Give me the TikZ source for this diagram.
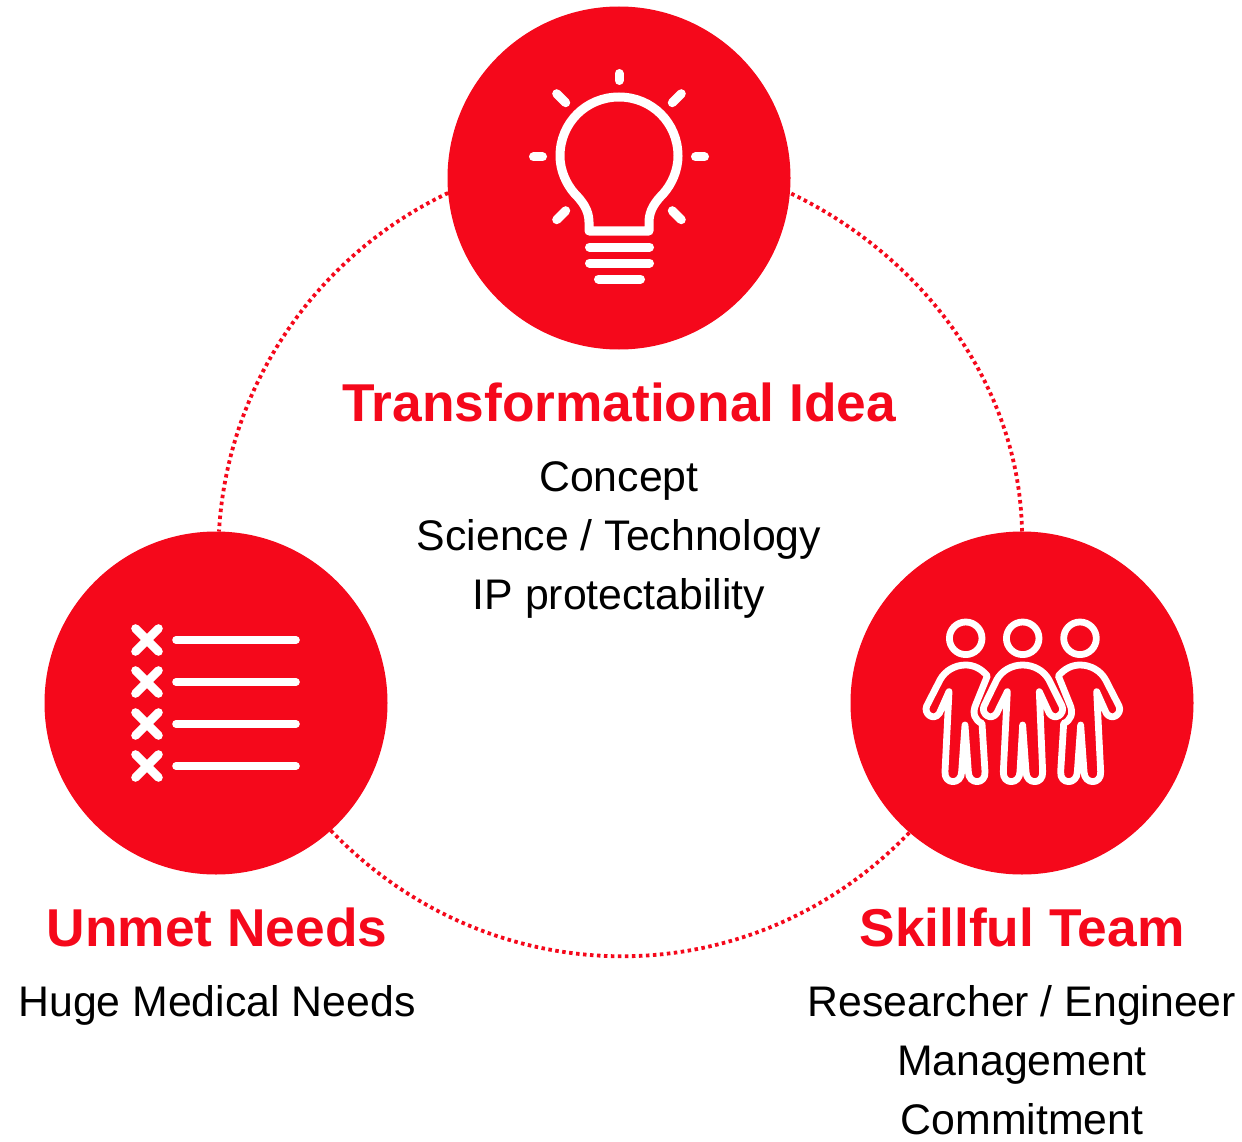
\documentclass[tikz,border=0pt]{standalone}
\usepackage{fontspec}
\setmainfont{Liberation Sans}
\definecolor{brandred}{HTML}{F5081B}
\tikzset{
  disc/.style={circle,fill=brandred,minimum size=343pt,inner sep=0pt,outer sep=0pt},
  linkarc/.style={draw=brandred,line width=3.8pt,dash pattern=on 3.5pt off 3.5pt},
  heading/.style={text=brandred,font=\fontsize{53.3}{60}\selectfont\bfseries,inner sep=0pt,anchor=center},
  bodytext/.style={text=black,font=\fontsize{42.8}{59}\selectfont,align=center,inner sep=0pt},
  bulbline/.style={draw=white,line width=9pt,line cap=round,line join=round},
  listline/.style={draw=white,line width=7.6pt,line cap=round},
  crossline/.style={draw=white,line width=8.6pt,line cap=round},
  personline/.style={draw=white,line width=6.8pt,line cap=round,line join=round}
}
\newcommand{\sidebody}{(197,195) .. controls (165,195) and (135,212) .. (120,240)
  -- (80,318) .. controls (70,340) and (100,365) .. (118,340) -- (147,275)
  -- (135,515) .. controls (132,555) and (185,555) .. (185,515) -- (195,375)
  -- (205,515) .. controls (205,555) and (258,555) .. (255,515) -- (246,370)
  .. controls (225,362) and (215,340) .. (228,312) -- (262,228)
  .. controls (245,207) and (222,195) .. (197,195) -- cycle}
\begin{document}
\begin{tikzpicture}[x=1pt,y=-1pt]
\useasboundingbox (0,0) rectangle (1242,1142);
\fill[white] (0,0) rectangle (1242,1142);
\node[disc] (idea) at (619,178) {};
\node[disc] (needs) at (216,703) {};
\node[disc] (team) at (1022,703) {};
\draw[linkarc] (idea.185) .. controls +(205.4:146.5pt) and +(86.7:146.5pt) .. (needs.89.2);
\draw[linkarc] (needs.-48.8) .. controls +(313.9:231pt) and +(226.1:231pt) .. (team.229);
\draw[linkarc] (team.90.8) .. controls +(91:146.5pt) and +(-25.4:146.5pt) .. (idea.-5);
% bulb
\draw[bulbline] (589,231) -- (589,222) .. controls (589,210) and (582,201) .. (575,194)
  .. controls (566,184) and (560,170) .. (560,156)
  .. controls (560,123) and (586,97) .. (619,97)
  .. controls (652,97) and (678,123) .. (678,156)
  .. controls (678,170) and (672,184) .. (663,194)
  .. controls (656,201) and (649,210) .. (649,222) -- (649,231) -- cycle;
\draw[bulbline] (589.5,247) -- (649.5,247);
\draw[bulbline] (589.5,263) -- (649.5,263);
\draw[bulbline] (598.5,279) -- (640.5,279);
\draw[bulbline] (619,73.5) -- (619,80.5);
\draw[bulbline] (533.5,157) -- (542.5,157);
\draw[bulbline] (695.5,157) -- (704.5,157);
\draw[bulbline] (556.7,93.7) -- (565.7,102.7);
\draw[bulbline] (681.3,93.7) -- (672.3,102.7);
\draw[bulbline] (565.7,210.7) -- (556.7,219.7);
\draw[bulbline] (672.3,210.7) -- (681.3,219.7);
% checklist
\foreach \yy in {640,682,724,766}{
  \draw[listline] (176,\yy) -- (296,\yy);
  \draw[crossline] (135.5,\yy-11.5) -- (158.5,\yy+11.5);
  \draw[crossline] (158.5,\yy-11.5) -- (135.5,\yy+11.5);
}
% people
\draw[personline] (965.7,638.3) circle[radius=16.3];
\draw[personline] (1022.7,638.3) circle[radius=16.3];
\draw[personline] (1080,638.3) circle[radius=16.3];
\begin{scope}[shift={(900,600)},x=0.3333pt,y=-0.3333pt]
\draw[personline] \sidebody;
\draw[personline] (368,195) .. controls (335,195) and (305,212) .. (290,240)
  -- (252,318) .. controls (242,340) and (272,365) .. (290,340) -- (322,275)
  -- (310,515) .. controls (307,555) and (360,555) .. (360,515) -- (368,375)
  -- (378,515) .. controls (378,555) and (431,555) .. (428,515) -- (418,275)
  -- (448,340) .. controls (466,365) and (496,340) .. (486,318) -- (447,240)
  .. controls (432,212) and (401,195) .. (368,195) -- cycle;
\end{scope}
\begin{scope}[shift={(1145.67,600)},x=-0.3333pt,y=-0.3333pt]
\draw[personline] \sidebody;
\end{scope}
% texts
\node[heading] (ideahead) at (619,402.5) {Transformational Idea};
\node[bodytext] (ideabody) at (619,540) {Concept\\Science / Technology\\IP protectability};
\node[heading] (needshead) at (217,927.5) {Unmet Needs};
\node[bodytext] (needsbody) at (217,1005) {Huge Medical Needs};
\node[heading] (teamhead) at (1022,927.5) {Skillful Team};
\node[bodytext] (teambody) at (1022,1060) {Researcher / Engineer\\Management\\Commitment};
\end{tikzpicture}
\end{document}
